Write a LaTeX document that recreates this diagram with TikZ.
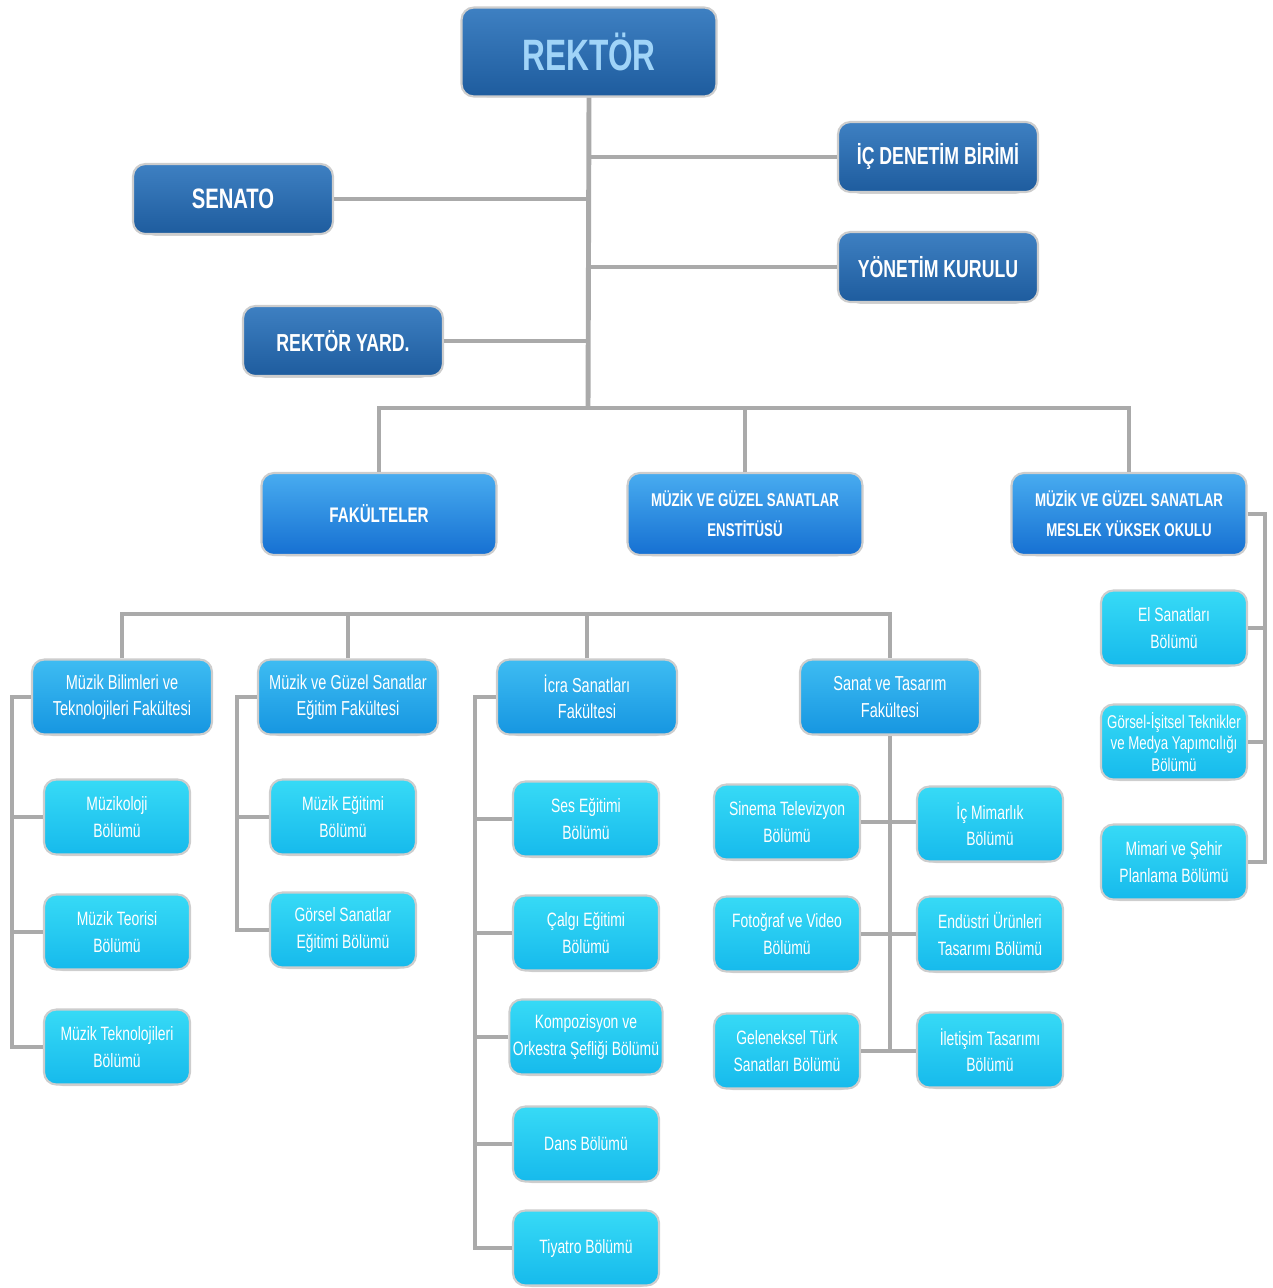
\documentclass[tikz,border=0pt]{standalone}
\usepackage{fontspec}
\setmainfont[FakeStretch=0.72]{Liberation Sans}
\usepackage{tikz}
\usetikzlibrary{shadows}

\definecolor{linegray}{RGB}{170,170,170}
\definecolor{edgegray}{RGB}{205,205,205}
\definecolor{navytop}{RGB}{62,128,194}
\definecolor{navybot}{RGB}{30,92,158}
\definecolor{bluetop}{RGB}{72,172,240}
\definecolor{bluebot}{RGB}{22,112,210}
\definecolor{factop}{RGB}{62,188,242}
\definecolor{facbot}{RGB}{22,150,225}
\definecolor{deptop}{RGB}{55,218,246}
\definecolor{depbot}{RGB}{22,186,236}
\definecolor{rektext}{RGB}{160,212,248}

\begin{document}
\begin{tikzpicture}[x=0.02cm, y=-0.02cm,
    box/.style = {draw=edgegray, line width=1.2pt, rounded corners=7pt, align=center,
                  inner sep=2pt, text=white,
                  drop shadow={shadow xshift=0pt, shadow yshift=-4pt, shadow scale=0.88, opacity=0.35}},
    head/.style = {box, top color=navytop, bottom color=navybot, minimum width=4cm, minimum height=1.4cm,
                   font=\bfseries\fontsize{14}{17}\selectfont},
    unit/.style = {box, top color=bluetop, bottom color=bluebot, minimum width=4.7cm, minimum height=1.64cm,
                   font=\bfseries\fontsize{10.5}{17}\selectfont},
    fac/.style = {box, top color=factop, bottom color=facbot, minimum width=3.6cm, minimum height=1.5cm,
                  font=\fontsize{11.5}{15}\selectfont},
    dept/.style = {box, top color=deptop, bottom color=depbot, minimum width=2.92cm, minimum height=1.5cm,
                   font=\fontsize{11}{15}\selectfont},
    link/.style = {draw=linegray, line width=2.8pt}]
\useasboundingbox (0,0) rectangle (1273,1288);

% rectorate
\node[head, minimum width=5.1cm, minimum height=1.78cm, text=rektext,
      font=\bfseries\fontsize{25}{28}\selectfont] (rektor) at (589,52) {REKTÖR};
\node[head] (icden) at (938,157) {İÇ DENETİM BİRİMİ};
\node[head, font=\bfseries\fontsize{16}{18}\selectfont] (senato) at (233,199) {SENATO};
\node[head] (yonetim) at (938,267) {YÖNETİM KURULU};
\node[head] (yard) at (343,341) {REKTÖR YARD.};

\node[unit, font=\bfseries\fontsize{12}{17}\selectfont] (fak) at (379,514) {FAKÜLTELER};
\node[unit] (enst) at (745,514) {MÜZİK VE GÜZEL SANATLAR\\ENSTİTÜSÜ};
\node[unit] (myo) at (1129,514) {MÜZİK VE GÜZEL SANATLAR\\MESLEK YÜKSEK OKULU};

% faculties
\node[fac] (mbtf) at (122,697) {Müzik Bilimleri ve\\Teknolojileri Fakültesi};
\node[fac] (mgsef) at (348,697) {Müzik ve Güzel Sanatlar\\Eğitim Fakültesi};
\node[fac] (icra) at (587,697) {İcra Sanatları\\Fakültesi};
\node[fac] (stf) at (890,697) {Sanat ve Tasarım\\Fakültesi};

% departments
\node[dept] (muzikoloji) at (117,817) {Müzikoloji\\Bölümü};
\node[dept] (teori) at (117,932) {Müzik Teorisi\\Bölümü};
\node[dept] (tekno) at (117,1047) {Müzik Teknolojileri\\Bölümü};

\node[dept] (megitim) at (343,817) {Müzik Eğitimi\\Bölümü};
\node[dept] (gsegitim) at (343,930) {Görsel Sanatlar\\Eğitimi Bölümü};

\node[dept] (ses) at (586,819) {Ses Eğitimi\\Bölümü};
\node[dept] (calgi) at (586,933) {Çalgı Eğitimi\\Bölümü};
\node[dept] (kompo) at (586,1037) {Kompozisyon ve\\Orkestra Şefliği Bölümü};
\node[dept] (dans) at (586,1144) {Dans Bölümü};
\node[dept] (tiyatro) at (586,1248) {Tiyatro Bölümü};

\node[dept] (sinema) at (787,822) {Sinema Televizyon\\Bölümü};
\node[dept] (foto) at (787,934) {Fotoğraf ve Video\\Bölümü};
\node[dept] (gts) at (787,1051) {Geleneksel Türk\\Sanatları Bölümü};
\node[dept] (icmim) at (990,824) {İç Mimarlık\\Bölümü};
\node[dept] (endustri) at (990,934) {Endüstri Ürünleri\\Tasarımı Bölümü};
\node[dept] (iletisim) at (990,1050) {İletişim Tasarımı\\Bölümü};

\node[dept] (elsan) at (1174,628) {El Sanatları\\Bölümü};
\node[dept, font=\fontsize{10.5}{12}\selectfont] (gorsel) at (1174,742) {Görsel-İşitsel Teknikler\\ve Medya Yapımcılığı\\Bölümü};
\node[dept] (mimari) at (1174,862) {Mimari ve Şehir\\Planlama Bölümü};

% connectors
\coordinate (hub) at (588,408);
\coordinate (fakbar) at (0,614);
\coordinate (c1) at (12,0);
\coordinate (c2) at (237,0);
\coordinate (c3) at (475,0);
\coordinate (c5) at (1265,0);

\path[link] (rektor.south) -- (hub);
\path[link] (icden.west) -- (icden.west -| hub);
\path[link] (senato.east) -- (senato.east -| hub);
\path[link] (yonetim.west) -- (yonetim.west -| hub);
\path[link] (yard.east) -- (yard.east -| hub);
\path[link] (fak.north) -- (fak.north |- hub) -- (myo.north |- hub) -- (myo.north);
\path[link] (enst.north) -- (enst.north |- hub);

\path[link] (mbtf.north) -- (mbtf.north |- fakbar) -- (stf.north |- fakbar) -- (stf.north);
\path[link] (mgsef.north) -- (mgsef.north |- fakbar);
\path[link] (icra.north) -- (icra.north |- fakbar);

\path[link] (mbtf.west) -- (mbtf.west -| c1) -- (tekno.west -| c1) -- (tekno.west);
\path[link] (muzikoloji.west) -- (muzikoloji.west -| c1);
\path[link] (teori.west) -- (teori.west -| c1);

\path[link] (mgsef.west) -- (mgsef.west -| c2) -- (gsegitim.west -| c2) -- (gsegitim.west);
\path[link] (megitim.west) -- (megitim.west -| c2);

\path[link] (icra.west) -- (icra.west -| c3) -- (tiyatro.west -| c3) -- (tiyatro.west);
\path[link] (ses.west) -- (ses.west -| c3);
\path[link] (calgi.west) -- (calgi.west -| c3);
\path[link] (kompo.west) -- (kompo.west -| c3);
\path[link] (dans.west) -- (dans.west -| c3);

\path[link] (stf.south) -- (stf.south |- gts.east);
\path[link] (sinema.east) -- (sinema.east -| icmim.west);
\path[link] (foto.east) -- (foto.east -| endustri.west);
\path[link] (gts.east) -- (gts.east -| iletisim.west);

\path[link] (myo.east) -- (myo.east -| c5) -- (mimari.east -| c5) -- (mimari.east);
\path[link] (elsan.east) -- (elsan.east -| c5);
\path[link] (gorsel.east) -- (gorsel.east -| c5);
\end{tikzpicture}
\end{document}
